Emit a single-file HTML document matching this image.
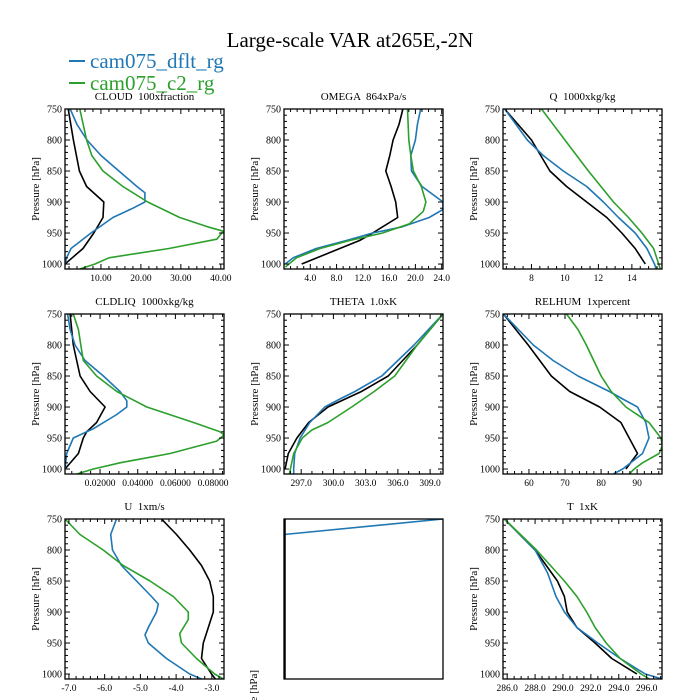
<!DOCTYPE html>
<html><head><meta charset="utf-8"><style>
html,body{margin:0;padding:0;background:#fff;}
svg{display:block;font-family:"Liberation Serif",serif;}
svg text{white-space:pre;}
</style></head><body>
<svg id="c" width="700" height="700" viewBox="0 0 700 700">
<text x="350" y="47" font-size="21" text-anchor="middle">Large-scale VAR at265E,-2N</text>
<g>
<line x1="69" y1="61" x2="85" y2="61" stroke="#1f77b4" stroke-width="2"/>
<text x="90" y="68" font-size="21" fill="#1f77b4">cam075_dflt_rg</text>
<line x1="69" y1="83" x2="85" y2="83" stroke="#2ca02c" stroke-width="2"/>
<text x="90" y="90" font-size="21" fill="#2ca02c">cam075_c2_rg</text>
</g>
</svg>
<script>
const cloudBlackP=[750,800,850,875,900,925,950,975,1000];
const cloudBlack=[1.8,3.1,4.6,6.4,10.7,10.5,8.2,5.5,1];
const cloudBlueP=[750,775,800,825,850,875,885,900,910,925,950,975,990,1000];
const cloudBlue=[2.3,4,6.5,10,14.5,19,21,21,18,13,7.5,2.5,1.4,1];
const cloudGreenP=[750,800,825,850,875,900,925,940,947,960,975,990,1000,1008];
const cloudGreen=[4.7,6.4,7.7,10.5,15.5,21.7,29.7,36.7,40.6,39,27,12,8.5,4.7];

const omegaBlackP=[750,775,800,825,850,875,900,925,950,962,975,1000];
const omegaBlack=[18.1,17.5,16.6,16.1,15.5,16.3,17,17.3,13.5,11.5,8.5,2.7];
const omegaBlueP=[750,775,800,825,850,875,900,912,925,940,950,962,975,990,1000];
const omegaBlue=[20.8,20.3,20,19.3,19.4,21,24.2,24.2,22.1,18,13.5,9.5,4.9,1.4,0.2];
const omegaGreenP=[750,800,825,850,875,900,915,935,950,962,975,990,1005];
const omegaGreen=[18.8,19,19.3,19.7,20.9,21.6,21.2,19.1,15,10,5.5,1.9,0.2];

const qBlackP=[750,800,850,875,900,925,950,975,1000];
const qBlack=[6.4,8.0,9.1,10.1,11.3,12.5,13.4,14.2,14.8];
const qBlueP=[750,800,825,850,875,900,925,950,975,1000,1008];
const qBlue=[6.4,7.75,8.7,9.9,11.3,12.3,13.2,14.2,14.9,15.35,15.45];
const qGreenP=[750,800,850,900,925,950,975,1000,1008];
const qGreen=[8.6,10,11.4,12.9,13.8,14.6,15.3,15.6,15.7];

const liqBlackP=[750,800,850,875,900,925,940,950,975,1000];
const liqBlack=[0.0041,0.0058,0.0094,0.0147,0.0227,0.0182,0.0129,0.0111,0.0085,0.0014];
const liqBlueP=[750,775,800,825,850,875,890,900,912,935,950,975,1000];
const liqBlue=[0.0028,0.0041,0.0067,0.012,0.0218,0.0306,0.0342,0.0342,0.0289,0.0165,0.0058,0.0023,0.0014];
const liqGreenP=[750,775,800,825,850,875,900,925,940,945,955,975,990,1000,1008];
const liqGreen=[0.0058,0.0085,0.0098,0.0111,0.0182,0.0289,0.0448,0.0696,0.0837,0.0859,0.0819,0.0572,0.0306,0.0165,0.0076];

const thBlackP=[750,800,850,875,900,925,950,975,1000];
const thBlack=[310.2,307.8,305.1,302.6,299.5,297.7,296.6,295.8,295.5];
const thBlueP=[750,800,850,875,887,900,925,950,975,1000,1008];
const thBlue=[310.2,307.5,304.5,302,300.6,299.2,297.8,296.9,296.4,296.3,296.3];
const thGreenP=[750,800,850,875,900,925,937,950,975,1000,1008];
const thGreen=[310.2,307.8,305.7,303.8,301.7,299.5,298,297.1,296.3,296,295.9];

const rhBlackP=[750,800,850,875,900,925,975,1000];
const rhBlack=[52.9,59.8,66.2,71.3,79.6,85.5,90.1,86.9];
const rhBlueP=[750,800,825,850,875,887,900,925,950,975,1000,1008];
const rhBlue=[52.9,61.2,66.7,73.6,82.3,86,90.1,92.4,93.3,91.5,86,83.4];
const rhGreenP=[750,775,800,850,875,900,925,950,962,975,990,1000,1008];
const rhGreen=[70.4,73.6,75.9,80,82.8,86.9,93.3,96.6,97,96.1,91.5,89.2,87.8];

const uBlackP=[750,775,800,825,850,875,900,925,950,975,1000,1008];
const uBlack=[-4.41,-3.99,-3.62,-3.29,-3.06,-2.96,-2.96,-3.1,-3.24,-3.29,-3.01,-2.9];
const uBlueP=[750,775,800,825,850,875,887,900,925,937,950,975,1000,1008];
const uBlue=[-5.67,-5.83,-5.78,-5.53,-5.11,-4.69,-4.5,-4.55,-4.78,-4.87,-4.78,-4.27,-3.62,-3.29];
const uGreenP=[750,775,800,825,850,875,900,912,935,950,975,1000,1008];
const uGreen=[-7.11,-6.69,-6.04,-5.48,-4.73,-4.08,-3.66,-3.66,-3.9,-3.85,-3.43,-2.92,-2.68];

const tBlackP=[750,800,850,875,900,925,950,975,1000];
const tBlack=[285.8,288.0,289.6,290.1,290.3,291.0,292.3,293.5,295.3];
const tBlueP=[750,800,837,875,900,925,950,975,1000,1008];
const tBlue=[285.8,288,288.9,289.5,290.1,291.0,292.5,294.1,295.9,297.1];
const tGreenP=[750,800,850,875,900,925,950,975,1000,1008];
const tGreen=[285.8,288.1,290.1,291.0,291.7,292.3,293.1,294.1,295.6,296.2];

const emptyBlueP=[775,750];
const emptyBlue=[0,1];

const yTicks=[750,800,850,900,950,1000];
const cloudTicks=[10,20,30,40];
const omegaTicks=[4,8,12,16,20,24];
const qTicks=[8,10,12,14];
const liqTicks=[0.02,0.04,0.06,0.08];
const thTicks=[297,300,303,306,309];
const rhTicks=[60,70,80,90];
const uTicks=[-7,-6,-5,-4,-3];
const tTicks=[286,288,290,292,294,296];

const NS="http://www.w3.org/2000/svg";
const svg=document.getElementById('c');
const BLUE="#1f77b4",GREEN="#2ca02c",BLACK="#000";
function mk(tag,attrs,parent){const e=document.createElementNS(NS,tag);for(const k in attrs)e.setAttribute(k,attrs[k]);(parent||svg).appendChild(e);return e;}

const panels=[
 {name:"cloud",title:"CLOUD  100xfraction",col:0,row:0,xmin:1,xmax:40.8,ticks:cloudTicks,dec:2,minor:2,
  series:[[cloudBlackP,cloudBlack,BLACK],[cloudBlueP,cloudBlue,BLUE],[cloudGreenP,cloudGreen,GREEN]]},
 {name:"omega",title:"OMEGA  864xPa/s",col:1,row:0,xmin:0,xmax:24.2,ticks:omegaTicks,dec:1,minor:1,
  series:[[omegaBlackP,omegaBlack,BLACK],[omegaBlueP,omegaBlue,BLUE],[omegaGreenP,omegaGreen,GREEN]]},
 {name:"q",title:"Q  1000xkg/kg",col:2,row:0,xmin:6.3,xmax:15.8,ticks:qTicks,dec:0,minor:0.5,
  series:[[qBlackP,qBlack,BLACK],[qBlueP,qBlue,BLUE],[qGreenP,qGreen,GREEN]]},
 {name:"cldliq",title:"CLDLIQ  1000xkg/kg",col:0,row:1,xmin:0.0014,xmax:0.0858,ticks:liqTicks,dec:5,minor:0.005,
  series:[[liqBlackP,liqBlack,BLACK],[liqBlueP,liqBlue,BLUE],[liqGreenP,liqGreen,GREEN]]},
 {name:"theta",title:"THETA  1.0xK",col:1,row:1,xmin:295.4,xmax:310.2,ticks:thTicks,dec:1,minor:1,
  series:[[thBlackP,thBlack,BLACK],[thBlueP,thBlue,BLUE],[thGreenP,thGreen,GREEN]]},
 {name:"relhum",title:"RELHUM  1xpercent",col:2,row:1,xmin:52.8,xmax:96.9,ticks:rhTicks,dec:0,minor:2,
  series:[[rhBlackP,rhBlack,BLACK],[rhBlueP,rhBlue,BLUE],[rhGreenP,rhGreen,GREEN]]},
 {name:"u",title:"U  1xm/s",col:0,row:2,xmin:-7.11,xmax:-2.66,ticks:uTicks,dec:1,minor:0.2,
  series:[[uBlackP,uBlack,BLACK],[uBlueP,uBlue,BLUE],[uGreenP,uGreen,GREEN]]},
 {name:"empty",title:"",col:1,row:2,xmin:0,xmax:1,ticks:[],dec:0,minor:0,noY:true,
  series:[[emptyBlueP,emptyBlue,BLUE]]},
 {name:"t",title:"T  1xK",col:2,row:2,xmin:285.7,xmax:297.1,ticks:tTicks,dec:1,minor:0.5,
  series:[[tBlackP,tBlack,BLACK],[tBlueP,tBlue,BLUE],[tGreenP,tGreen,GREEN]]}
];
const colX=[65,284,503],rowY=[109,314,519],W=159,H=160,PMIN=750,PMAX=1008;

panels.forEach(pn=>{
 const L=colX[pn.col],T=rowY[pn.row];
 const g=mk('g',{});
 
 
 const xs=v=>L+(v-pn.xmin)/(pn.xmax-pn.xmin)*W;
 const ys=p=>T+(p-PMIN)/(PMAX-PMIN)*H;
 if(pn.title){
  const t=mk('text',{x:L+W/2,y:T-9,'font-size':11,'text-anchor':'middle'},g);
  t.textContent=pn.title;
  
  
 }
 const yl=mk('text',{transform:`translate(${L-26},${T+H/2}) rotate(-90)`,'font-size':11,'text-anchor':'middle'},g);
 yl.textContent="Pressure [hPa]";
 
 
 if(pn.name==="empty"){yl.setAttribute('transform',`translate(${L-27},${T+151}) rotate(-90)`);yl.setAttribute('text-anchor','end');}
 const clip=mk('clipPath',{id:'cl'+pn.name},g);
 mk('rect',{x:L,y:T,width:W,height:H},clip);
 pn.series.forEach((s,i)=>{
  const [P,V,col]=s;
  let d='';
  for(let k=0;k<P.length;k++){
   const vx=pn.name==="empty"?(L+V[k]*W):xs(V[k]);
   d+=(k?'L':'M')+vx.toFixed(1)+','+ys(P[k]).toFixed(1);
  }
  const path=mk('path',{d:d,fill:'none',stroke:col,'stroke-width':1.6,'clip-path':`url(#cl${pn.name})`,'stroke-linejoin':'round'},g);
  
  
 });
 if(pn.name==="empty"){mk('line',{x1:L+1,y1:T,x2:L+1,y2:T+H,stroke:'#000','stroke-width':1.5},g);}
 if(!pn.noY){
  for(let p=750;p<=1000;p+=10){
   const y=ys(p),maj=p%50===0,len=maj?5:3;
   mk('line',{x1:L,y1:y,x2:L+len,y2:y,stroke:'#000','stroke-width':1},g);
   mk('line',{x1:L+W,y1:y,x2:L+W-len,y2:y,stroke:'#000','stroke-width':1},g);
  }
  yTicks.forEach(p=>{
   const t=mk('text',{x:L-3,y:ys(p)+3.5,'font-size':10,'text-anchor':'end'},g);
   t.textContent=p;
   
   
  });
 }
 if(pn.minor){
  const st=Math.ceil(pn.xmin/pn.minor);
  for(let k=st;k*pn.minor<=pn.xmax;k++){
   const v=k*pn.minor,x=xs(v);
   const maj=pn.ticks.some(tk=>Math.abs(tk-v)<pn.minor/10),len=maj?5:3;
   mk('line',{x1:x,y1:T+H,x2:x,y2:T+H-len,stroke:'#000','stroke-width':1},g);
   mk('line',{x1:x,y1:T,x2:x,y2:T+len,stroke:'#000','stroke-width':1},g);
  }
 }
 pn.ticks.forEach(v=>{
  const t=mk('text',{x:xs(v),y:T+H+12,'font-size':9.5,'text-anchor':'middle'},g);
  t.textContent=v.toFixed(pn.dec);
  
  
 });
 const fr=mk('rect',{x:L,y:T,width:W,height:H,fill:'none',stroke:'#000','stroke-width':1.3},g);
 
 
});
</script>
</body></html>
